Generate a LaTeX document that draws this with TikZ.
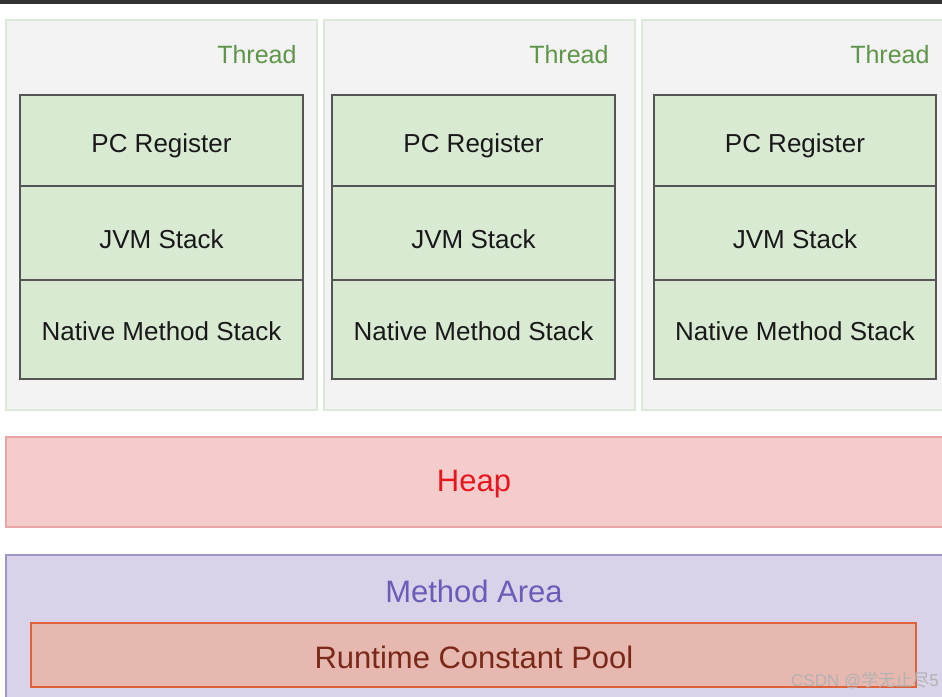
\documentclass[tikz,border=0pt]{standalone}
\usepackage{fontspec}
\setmainfont{Liberation Sans}
\newfontfamily\cjk{Noto Sans CJK SC}
\definecolor{threadfill}{HTML}{F2F3F2}
\definecolor{threadline}{HTML}{DCE8D8}
\definecolor{threadtext}{HTML}{5E9548}
\definecolor{cellfill}{HTML}{D9EAD3}
\definecolor{cellline}{HTML}{555555}
\definecolor{heapfill}{HTML}{F4CCCC}
\definecolor{heapline}{HTML}{E8A6A6}
\definecolor{heaptext}{HTML}{E8141E}
\definecolor{mafill}{HTML}{D9D2E9}
\definecolor{maline}{HTML}{A096C8}
\definecolor{matext}{HTML}{6A5CB8}
\definecolor{rcpfill}{HTML}{E6B8AF}
\definecolor{rcpline}{HTML}{E0603A}
\definecolor{rcptext}{HTML}{7A2818}
\tikzset{
  threadbox/.style={draw=threadline, fill=threadfill, line width=1.5pt},
  cell/.style={draw=cellline, fill=cellfill, line width=2pt},
  celltext/.style={font=\fontsize{26}{30}\selectfont, text=black!90},
  threadlabel/.style={anchor=east, text=threadtext, font=\fontsize{25}{29}\selectfont},
  bigtext/.style={font=\fontsize{31}{35}\selectfont},
}
\begin{document}
\begin{tikzpicture}[x=1pt,y=-1pt]
\useasboundingbox (0,0) rectangle (942,696);
\fill[white] (0,0) rectangle (942,696);
\fill[black!80] (0,0) rectangle (942,3.5);
% threads
\foreach \i/\xa/\xb/\ca/\cb in {1/6/317/20/303, 2/324/635/332/615, 3/642/944/654/936}{
  \draw[threadbox] (\xa,20) rectangle (\xb,410);
  \node[threadlabel] (t\i) at (\cb-3,55) {Thread};
  \draw[cell] (\ca,95) rectangle (\cb,186);
  \draw[cell] (\ca,186) rectangle (\cb,280);
  \draw[cell] (\ca,280) rectangle (\cb,379);
  \node[celltext] (pc\i) at ({(\ca+\cb)/2},146) {PC Register};
  \node[celltext] (jvm\i) at ({(\ca+\cb)/2},239) {JVM Stack};
  \node[celltext] (nms\i) at ({(\ca+\cb)/2},331) {Native Method Stack};
}
% heap
\draw[draw=heapline, fill=heapfill, line width=1.5pt] (6,437) rectangle (946,527);
\node[text=heaptext, bigtext] (heap) at (474,484) {Heap};
% method area
\draw[draw=maline, fill=mafill, line width=1.5pt] (6,555) rectangle (946,700);
\node[text=matext, bigtext] (ma) at (474,591) {Method Area};
\draw[draw=rcpline, fill=rcpfill, line width=2.5pt] (31,623) rectangle (916,687);
\node[text=rcptext, bigtext] (rcp) at (474,657) {Runtime Constant Pool};
% watermark
\node[anchor=east, text=black!30, font=\fontsize{17}{19}\selectfont, inner sep=1pt] (wm) at (940,680) {CSDN @{\cjk 学无止尽}5};
\end{tikzpicture}
\end{document}
